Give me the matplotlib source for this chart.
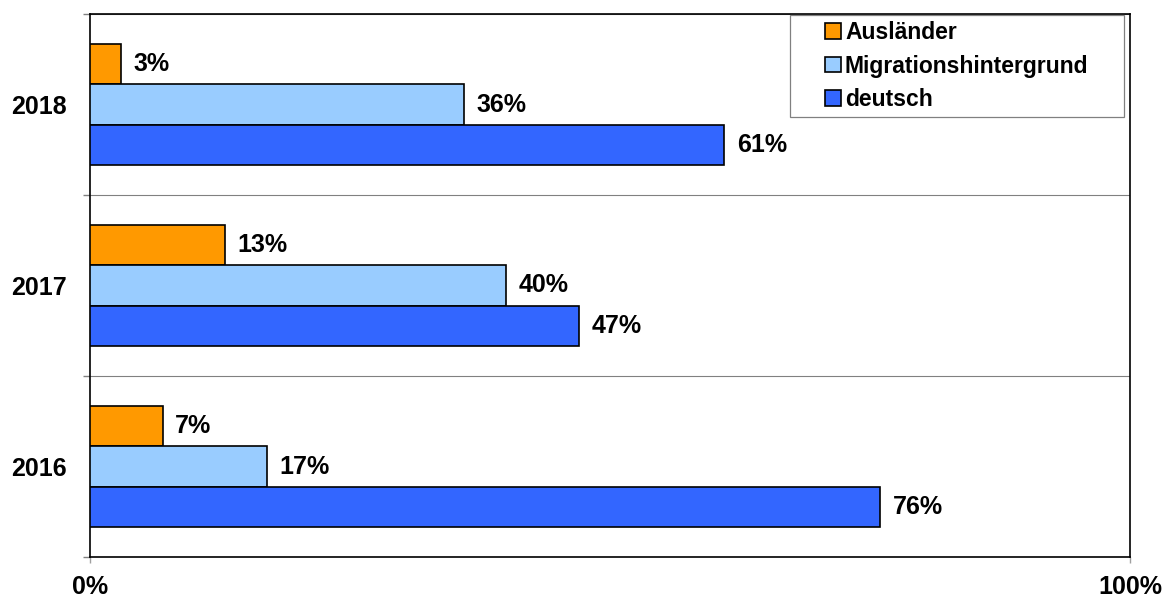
import matplotlib
matplotlib.use("Agg")
import matplotlib.pyplot as plt
import numpy as np
from matplotlib.patches import Rectangle

plt.rcParams['font.family'] = ['Liberation Sans', 'DejaVu Sans']
plt.rcParams['font.weight'] = 'bold'

years = ['2016', '2017', '2018']
auslaender = [7, 13, 3]
migration = [17, 40, 36]
deutsch = [76, 47, 61]
series_names = ['Ausländer', 'Migrationshintergrund', 'deutsch']
colors = ['#FF9900', '#99CCFF', '#3366FF']
x_ticks = [0, 100]
x_labels = ['0%', '100%']

fig = plt.figure(figsize=(11.64, 5.97), dpi=100)
ax = fig.add_axes([90 / 1164, 1 - 557 / 597, 1040 / 1164, 543 / 597])

centers = np.arange(len(years)) + 0.5
h = 0.222
series = [auslaender, migration, deutsch]
offsets = [h, 0, -h]
for vals, name, col, off in zip(series, series_names, colors, offsets):
    b = ax.barh(centers + off, vals, height=h, color=col, edgecolor='black',
                linewidth=1.2, label=name, zorder=3)
    for rect, v in zip(b, vals):
        ax.annotate(f'{v}%', (rect.get_width(), rect.get_y() + rect.get_height() / 2),
                    xytext=(9, 0), textcoords='offset points', va='center', ha='left',
                    fontsize=18, fontweight='bold')

ax.set_xlim(0, 100)
ax.set_ylim(0, len(years))

# group separators as major ticks, year labels as minor ticks
ax.set_yticks([0, 1, 2, 3])
ax.set_yticklabels([])
ax.set_yticks(centers, minor=True)
ax.set_yticklabels(years, minor=True, fontsize=18, fontweight='bold')
ax.tick_params(axis='y', which='major', length=5, color='#808080', width=1)
ax.tick_params(axis='y', which='minor', length=0, pad=16.5)
ax.grid(axis='y', which='major', color='#808080', linewidth=0.8, zorder=0)

ax.set_xticks(x_ticks)
ax.set_xticklabels(x_labels, fontsize=18, fontweight='bold')
ax.tick_params(axis='x', length=4.5, color='#a0a0a0', width=1, pad=8.5)

for s in ax.spines.values():
    s.set_color('black')
    s.set_linewidth(1.2)

# legend box
ax.add_patch(Rectangle((0.673, 0.810), 0.321, 0.188, transform=ax.transAxes,
                       facecolor='white', edgecolor='#808080', linewidth=0.9, zorder=4))
leg = ax.legend(loc='center', bbox_to_anchor=(0.8335, 0.904), frameon=False,
                prop={'size': 16.5, 'weight': 'bold'}, handlelength=0.68,
                handleheight=0.68, handletextpad=0.18, labelspacing=0.45,
                borderpad=0, borderaxespad=0)
leg.set_zorder(5)

fig.savefig('out.png', dpi=100)
